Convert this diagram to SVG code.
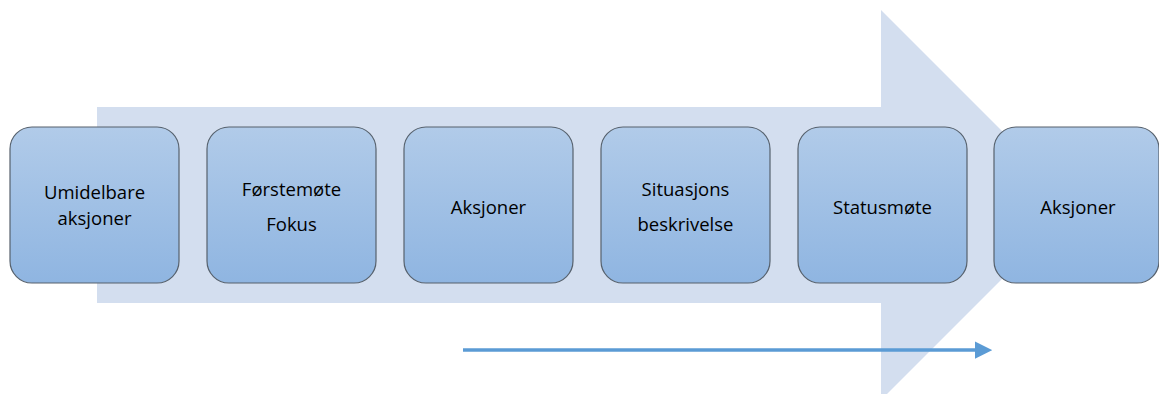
<svg xmlns="http://www.w3.org/2000/svg" width="1159" height="394" viewBox="0 0 1159 394">
<defs>
<linearGradient id="g" x1="0" y1="0" x2="0" y2="1">
<stop offset="0" stop-color="#b1cbe9"/>
<stop offset="1" stop-color="#8fb5e1"/>
</linearGradient>
<marker id="ah" markerWidth="5" markerHeight="5" refX="1.5" refY="2.5" orient="auto" markerUnits="strokeWidth">
<path d="M0,0 L5,2.5 L0,5 Z" fill="#5b9bd5"/>
</marker>
<style>
.box{fill:url(#g);stroke:#56616d;stroke-width:1.2}
.t{font-family:"Open Sans","Liberation Sans",Arial,sans-serif;font-size:18.5px;fill:#000;text-anchor:middle}
</style>
</defs>
<rect width="1159" height="394" fill="#fff"/>
<g id="bigarrow">
<path d="M97,107 L881,107 L881,10 L1076,205 L881,400 L881,303 L97,303 Z" fill="#d3deef"/>
</g>
<g id="connectors">
<line x1="463" y1="350" x2="980" y2="350" stroke="#5b9bd5" stroke-width="3.5" marker-end="url(#ah)"/>
</g>
<g id="n1"><rect class="box" x="10" y="127" width="169" height="156" rx="22"/><text class="t" x="94.5" y="199">Umidelbare</text><text class="t" x="94.5" y="225">aksjoner</text></g>
<g id="n2"><rect class="box" x="207" y="127" width="169" height="156" rx="22"/><text class="t" x="291.5" y="196">Førstemøte</text><text class="t" x="291.5" y="231">Fokus</text></g>
<g id="n3"><rect class="box" x="404" y="127" width="169" height="156" rx="22"/><text class="t" x="488.5" y="214">Aksjoner</text></g>
<g id="n4"><rect class="box" x="601" y="127" width="169" height="156" rx="22"/><text class="t" x="685.5" y="196">Situasjons</text><text class="t" x="685.5" y="231">beskrivelse</text></g>
<g id="n5"><rect class="box" x="798" y="127" width="169" height="156" rx="22"/><text class="t" x="882.5" y="214">Statusmøte</text></g>
<g id="n6"><rect class="box" x="994" y="127" width="165" height="156" rx="22"/><text class="t" x="1078" y="214">Aksjoner</text></g>
</svg>
